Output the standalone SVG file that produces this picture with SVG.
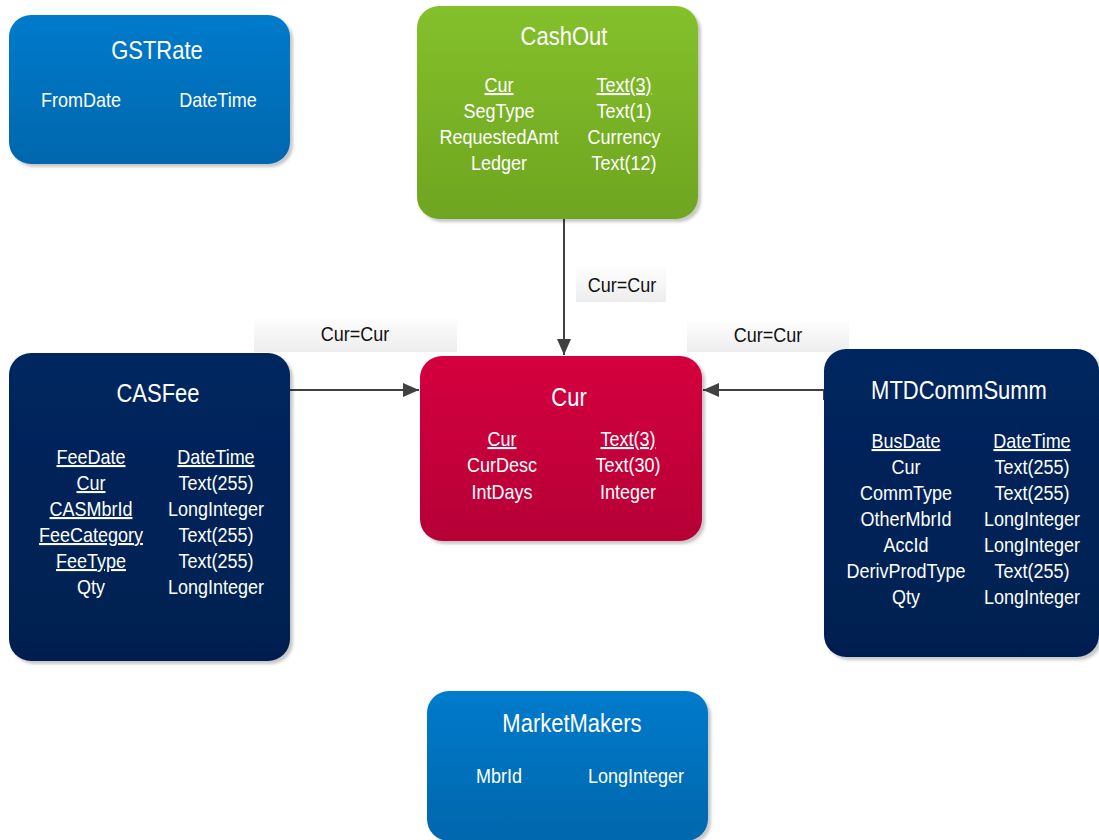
<svg xmlns="http://www.w3.org/2000/svg" width="1099" height="840" viewBox="0 0 1099 840">
  <defs>
    <linearGradient id="gBlue" x1="0" y1="0" x2="0" y2="1">
      <stop offset="0" stop-color="#007bcb"/>
      <stop offset="1" stop-color="#0066ad"/>
    </linearGradient>
    <linearGradient id="gGreen" x1="0" y1="0" x2="0" y2="1">
      <stop offset="0" stop-color="#84c02b"/>
      <stop offset="1" stop-color="#6ea520"/>
    </linearGradient>
    <linearGradient id="gRed" x1="0" y1="0" x2="0" y2="1">
      <stop offset="0" stop-color="#d4003e"/>
      <stop offset="1" stop-color="#b60036"/>
    </linearGradient>
    <linearGradient id="gNavy" x1="0" y1="0" x2="0" y2="1">
      <stop offset="0" stop-color="#00265f"/>
      <stop offset="1" stop-color="#001f50"/>
    </linearGradient>
    <linearGradient id="gLabel" x1="0" y1="0" x2="0" y2="1">
      <stop offset="0" stop-color="#fdfdfd"/>
      <stop offset="1" stop-color="#ededed"/>
    </linearGradient>
    <filter id="shadow" x="-10%" y="-10%" width="125%" height="125%">
      <feDropShadow dx="3" dy="3" stdDeviation="1.5" flood-color="#000" flood-opacity="0.22"/>
    </filter>
    <marker id="arrow" viewBox="0 0 16 14" refX="16" refY="7" markerWidth="16" markerHeight="14" markerUnits="userSpaceOnUse" orient="auto">
      <path d="M0,0 L16,7 L0,14 Z" fill="#404040"/>
    </marker>
  </defs>
  <style>
    text {
      font-family: "Liberation Sans", Arial, sans-serif;
      fill: #ffffff;
      text-anchor: middle;
      /* slightly condensed look: stretch glyphs vertically around their own box */
      transform-box: fill-box;
      transform-origin: center;
      transform: scaleY(1.15);
    }
    .title { font-size: 22px; }
    .attr { font-size: 18px; }
    .key { text-decoration: underline; }
    .box { filter: url(#shadow); }
    .conn { stroke: #404040; stroke-width: 2; fill: none; }
    .lbl { fill: url(#gLabel); }
    .lbltext { font-size: 18px; fill: #111111; }
  </style>

  <!-- relationship connectors -->
  <g id="connectors">
    <rect class="lbl" x="576" y="268" width="90" height="34"/>
    <text class="lbltext" x="622" y="291">Cur=Cur</text>
    <rect class="lbl" x="254" y="318" width="203" height="34"/>
    <text class="lbltext" x="355" y="340">Cur=Cur</text>
    <rect class="lbl" x="687" y="322" width="162" height="30"/>
    <text class="lbltext" x="768" y="341">Cur=Cur</text>

    <line class="conn" x1="564" y1="219" x2="564" y2="355" marker-end="url(#arrow)"/>
    <line class="conn" x1="290" y1="390" x2="419" y2="390" marker-end="url(#arrow)"/>
    <polyline class="conn" points="824,400 824,390 703,390" marker-end="url(#arrow)"/>
  </g>

  <g id="GSTRate">
    <rect class="box" x="9" y="15" width="281" height="149" rx="22" fill="url(#gBlue)"/>
    <text class="title" x="157" y="58">GSTRate</text>
    <text class="attr" x="81" y="106">FromDate</text>
    <text class="attr" x="218" y="106">DateTime</text>
  </g>

  <g id="CashOut">
    <rect class="box" x="417" y="6" width="281" height="213" rx="22" fill="url(#gGreen)"/>
    <text class="title" x="564" y="44">CashOut</text>
    <text class="attr key" x="499" y="91">Cur</text>
    <text class="attr key" x="624" y="91">Text(3)</text>
    <text class="attr" x="499" y="117">SegType</text>
    <text class="attr" x="624" y="117">Text(1)</text>
    <text class="attr" x="499" y="143">RequestedAmt</text>
    <text class="attr" x="624" y="143">Currency</text>
    <text class="attr" x="499" y="169">Ledger</text>
    <text class="attr" x="624" y="169">Text(12)</text>
  </g>

  <g id="Cur">
    <rect class="box" x="420" y="356" width="282" height="185" rx="22" fill="url(#gRed)"/>
    <text class="title" x="569" y="405">Cur</text>
    <text class="attr key" x="502" y="445">Cur</text>
    <text class="attr key" x="628" y="445">Text(3)</text>
    <text class="attr" x="502" y="471">CurDesc</text>
    <text class="attr" x="628" y="471">Text(30)</text>
    <text class="attr" x="502" y="498">IntDays</text>
    <text class="attr" x="628" y="498">Integer</text>
  </g>

  <g id="CASFee">
    <rect class="box" x="9" y="353" width="281" height="308" rx="22" fill="url(#gNavy)"/>
    <text class="title" x="158" y="401">CASFee</text>
    <text class="attr key" x="91" y="463">FeeDate</text>
    <text class="attr key" x="216" y="463">DateTime</text>
    <text class="attr key" x="91" y="489">Cur</text>
    <text class="attr" x="216" y="489">Text(255)</text>
    <text class="attr key" x="91" y="515">CASMbrId</text>
    <text class="attr" x="216" y="515">LongInteger</text>
    <text class="attr key" x="91" y="541">FeeCategory</text>
    <text class="attr" x="216" y="541">Text(255)</text>
    <text class="attr key" x="91" y="567">FeeType</text>
    <text class="attr" x="216" y="567">Text(255)</text>
    <text class="attr" x="91" y="593">Qty</text>
    <text class="attr" x="216" y="593">LongInteger</text>
  </g>

  <g id="MTDCommSumm">
    <rect class="box" x="824" y="349" width="275" height="308" rx="22" fill="url(#gNavy)"/>
    <text class="title" x="959" y="398">MTDCommSumm</text>
    <text class="attr key" x="906" y="447">BusDate</text>
    <text class="attr key" x="1032" y="447">DateTime</text>
    <text class="attr" x="906" y="473">Cur</text>
    <text class="attr" x="1032" y="473">Text(255)</text>
    <text class="attr" x="906" y="499">CommType</text>
    <text class="attr" x="1032" y="499">Text(255)</text>
    <text class="attr" x="906" y="525">OtherMbrId</text>
    <text class="attr" x="1032" y="525">LongInteger</text>
    <text class="attr" x="906" y="551">AccId</text>
    <text class="attr" x="1032" y="551">LongInteger</text>
    <text class="attr" x="906" y="577">DerivProdType</text>
    <text class="attr" x="1032" y="577">Text(255)</text>
    <text class="attr" x="906" y="603">Qty</text>
    <text class="attr" x="1032" y="603">LongInteger</text>
  </g>

  <g id="MarketMakers">
    <rect class="box" x="427" y="691" width="281" height="150" rx="22" fill="url(#gBlue)"/>
    <text class="title" x="572" y="731">MarketMakers</text>
    <text class="attr" x="499" y="782">MbrId</text>
    <text class="attr" x="636" y="782">LongInteger</text>
  </g>
</svg>
